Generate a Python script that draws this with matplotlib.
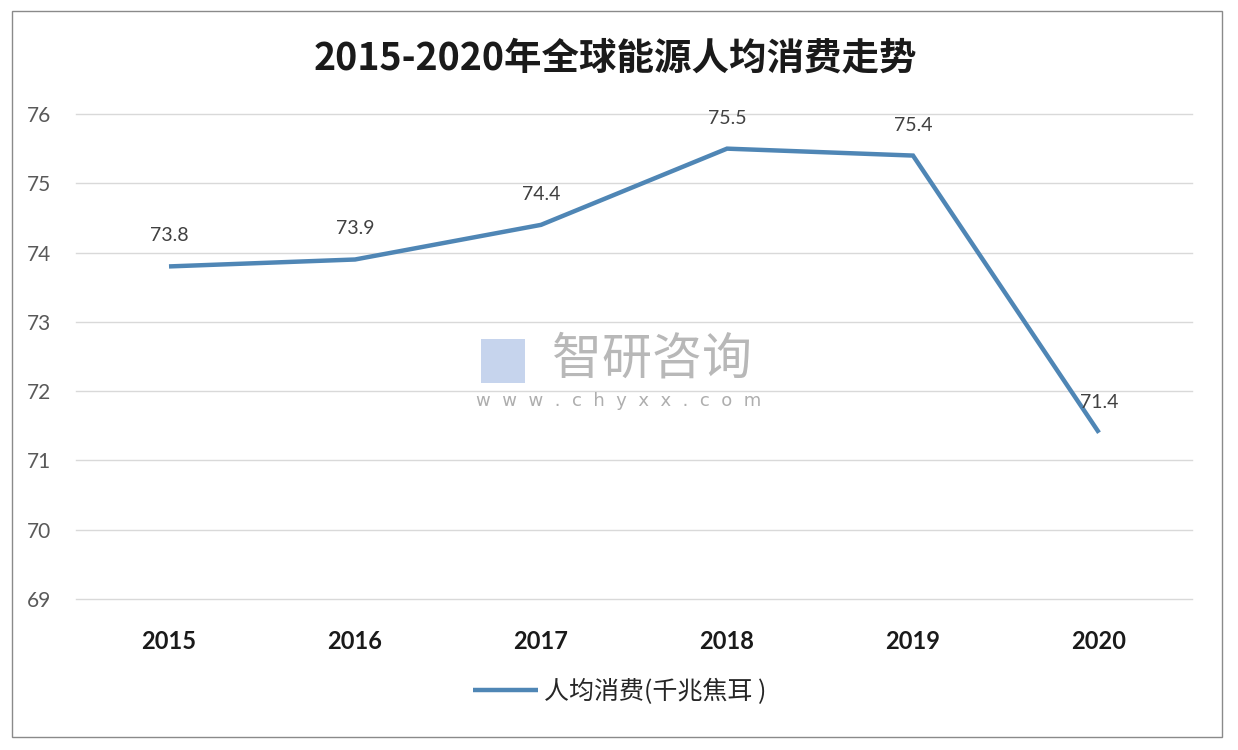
import matplotlib
matplotlib.use("Agg")
import matplotlib.pyplot as plt
from matplotlib.patches import Rectangle

years = ["2015", "2016", "2017", "2018", "2019", "2020"]
values = [73.8, 73.9, 74.4, 75.5, 75.4, 71.4]
yticks = [69, 70, 71, 72, 73, 74, 75, 76]
title = "2015-2020年全球能源人均消费走势"
series_name = "人均消费(千兆焦耳 )"

plt.rcParams['font.family'] = ['Lato', 'Noto Sans CJK SC', 'DejaVu Sans']

fig = plt.figure(figsize=(12.38, 7.5), dpi=100)
fig.patch.set_facecolor('white')

# outer frame
fig.add_artist(Rectangle((12/1238, 1-737/750), (1222-12)/1238, (737-11)/750,
                         transform=fig.transFigure, fill=False,
                         edgecolor='#8a8a8a', linewidth=1.0))

ax = fig.add_axes([76/1238, 1-599/750, (1192-76)/1238, (599-114)/750])
ax.set_facecolor('none')
x = list(range(len(years)))
line, = ax.plot(x, values, color='#4F86B5', linewidth=3.2, solid_capstyle='butt',
                solid_joinstyle='miter', label=series_name, zorder=3)

for xi, v in zip(x, values):
    ax.annotate(f"{v:.1f}", (xi, v), xytext=(0, 22), textcoords='offset points',
                ha='center', va='center', fontsize=14, color='#404040',
                family=['Lato', 'DejaVu Sans'], zorder=4)

ax.set_xlim(-0.5, len(years) - 0.5)
ax.set_ylim(69, 76)
ax.set_yticks(yticks)
ax.set_yticklabels([str(t) for t in yticks], fontsize=15, color='#595959')
ax.set_xticks(x)
ax.set_xticklabels(years, fontsize=17, fontweight='bold', color='#1a1a1a')
ax.tick_params(axis='both', length=0)
ax.tick_params(axis='y', pad=18)
ax.tick_params(axis='x', pad=22)
ax.grid(axis='y', color='#d9d9d9', linewidth=1.0)
for gl in ax.get_ygridlines():
    gl.set_clip_on(False)
ax.set_axisbelow(True)
for s in ax.spines.values():
    s.set_visible(False)

fig.text(615/1238, 1-58/750, title, ha='center', va='center', fontsize=27,
         fontweight='bold', color='#1a1a1a',
         family=['Noto Sans CJK SC', 'DejaVu Sans'])

# watermark
fig.text(652/1238, 1-360/750, "智研咨询", ha='center', va='center', fontsize=36,
         color='#9a9a9a', alpha=0.7, family=['Noto Sans CJK SC', 'DejaVu Sans'])
fig.text(619/1238, 1-401/750, "w  w  w  .  c  h  y  x  x  .  c  o  m", ha='center', va='center',
         fontsize=13, color='#9a9a9a', alpha=0.8, family=['DejaVu Sans'])
fig.add_artist(Rectangle((481/1238, 1-383/750), 44/1238, 44/750, transform=fig.transFigure,
                         facecolor='#aec3e6', edgecolor='none', alpha=0.7))

leg = fig.legend(handles=[line], loc='center', bbox_to_anchor=(620/1238, 1-692/750),
                 frameon=False, handlelength=2.6, handletextpad=0.25,
                 prop={'family': ['Noto Sans CJK SC', 'DejaVu Sans'], 'size': 18})
for t in leg.get_texts():
    t.set_color('#262626')

fig.savefig("out.png", dpi=100, facecolor='white')
